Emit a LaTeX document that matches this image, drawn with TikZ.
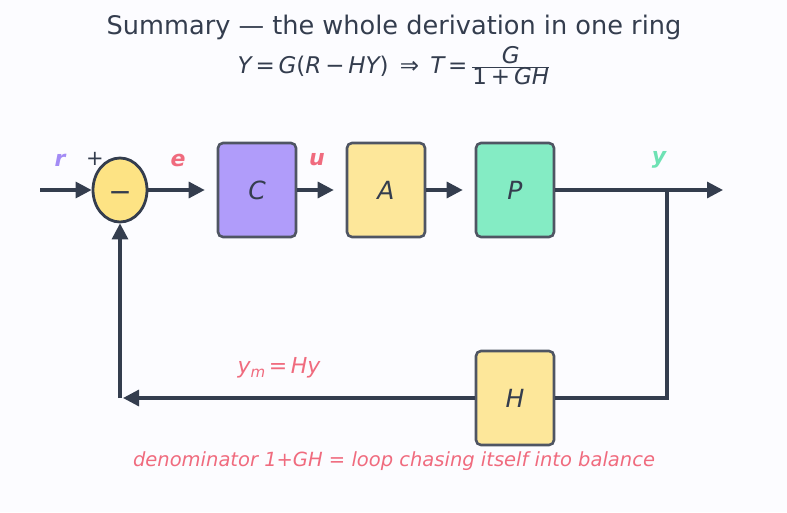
\documentclass[tikz,border=0pt]{standalone}
\usepackage{fontspec}
\setmainfont{DejaVu Sans}
\usetikzlibrary{arrows.meta,shapes.geometric}
\definecolor{ink}{HTML}{343D4E}
\definecolor{boxline}{HTML}{4F5563}
\definecolor{bg}{HTML}{FCFCFF}
\definecolor{cpurple}{HTML}{B09CFA}
\definecolor{cyellow}{HTML}{FDE79A}
\definecolor{sumyellow}{HTML}{FDE384}
\definecolor{cgreen}{HTML}{84ECC4}
\definecolor{lblpurple}{HTML}{A38BF5}
\definecolor{lblred}{HTML}{F06B7E}
\definecolor{lblgreen}{HTML}{6EE2B4}
\begin{document}
\begin{tikzpicture}[x=1pt,y=-1pt,
  blk/.style={draw=boxline,line width=2.6pt,rounded corners=5pt,minimum width=78pt,minimum height=94pt,inner sep=0pt,font=\fontsize{25}{28}\selectfont\itshape,text=ink},
  wire/.style={draw=ink,line width=3.2pt},
  arr/.style={wire,-{Triangle[length=16pt,width=16pt]}},
  sig/.style={font=\fontsize{22}{26}\selectfont\bfseries\itshape},
]
\fill[bg] (0,0) rectangle (787,512);
\useasboundingbox (0,0) rectangle (787,512);
\node[text=ink,font=\fontsize{25.6}{30}\selectfont] (title) at (394,27) {Summary — the whole derivation in one ring};
\node[text=ink,font=\fontsize{23}{27}\selectfont] (eq) at (394,66) {\itshape Y\upshape\,=\,\itshape G\upshape(\itshape R\upshape\,−\,\itshape HY\upshape)\, ⇒ \,\itshape T\upshape\,=\,$\frac{\mbox{\itshape G}}{\mbox{1\,+\,\itshape GH}}$};
\node[draw=ink,fill=sumyellow,line width=2.8pt,ellipse,minimum width=54pt,minimum height=64pt,inner sep=0pt] (sum) at (120,190) {};
\node[font=\fontsize{28}{30}\selectfont,text=ink,inner sep=0pt,anchor=base] (minus) at (120,201) {−};
\node[blk,fill=cpurple] (C) at (257,190) {C};
\node[blk,fill=cyellow] (A) at (386,190) {A};
\node[blk,fill=cgreen] (P) at (515,190) {P};
\node[blk,fill=cyellow] (H) at (515,398) {H};
\coordinate (in) at (40,190);
\coordinate (out) at (723,190);
\coordinate (br) at (667,190);
\coordinate (brd) at (667,398);
\coordinate (fbl) at (120,398);
\coordinate (fbtip) at (123,398);
\draw[arr] (in) -- (sum.west);
\draw[arr] (sum.east) -- ([xshift=-12pt]C.west);
\draw[arr] (C.east) -- ([xshift=-12pt]A.west);
\draw[arr] (A.east) -- ([xshift=-12pt]P.west);
\draw[arr] (P.east) -- (out);
\draw[wire] (br) -- (brd) -- (H.east);
\draw[arr] (H.west) -- (fbtip);
\draw[arr] (fbl) -- (sum.south);
\node[sig,text=lblpurple] (r) at (60,160) {r};
\node[text=ink,font=\fontsize{21}{25}\selectfont] (plus) at (95,159) {+};
\node[sig,text=lblred] (e) at (178,160) {e};
\node[sig,text=lblred] (u) at (317,160) {u};
\node[sig,text=lblgreen] (y) at (659,160) {y};
\node[text=lblred,font=\fontsize{22}{26}\selectfont\itshape] (ym) at (279,368) {y\raisebox{-0.35ex}{\fontsize{15}{18}\selectfont m}\upshape\,=\,\itshape Hy};
\node[text=lblred,font=\fontsize{19.5}{23}\selectfont\itshape] (foot) at (394,461) {denominator 1+GH = loop chasing itself into balance};
\end{tikzpicture}
\end{document}
